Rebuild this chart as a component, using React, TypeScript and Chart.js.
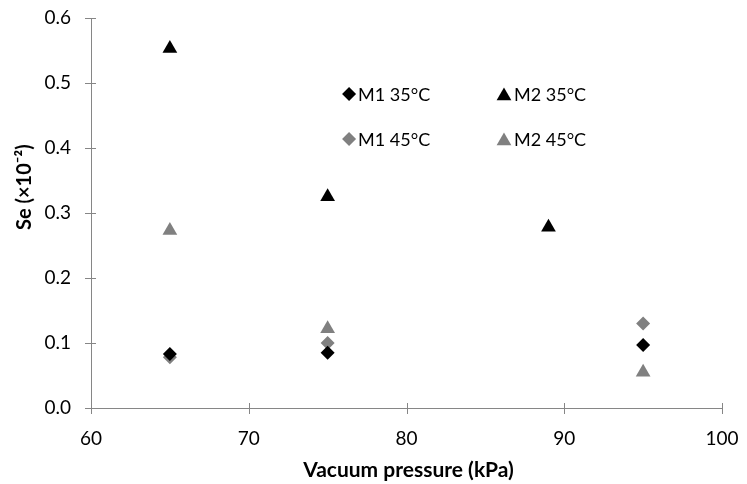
import React, { useEffect, useRef } from "react";
import { Chart, registerables } from "chart.js";

Chart.register(...registerables);

const seriesNames = ["M1 35°C", "M2 35°C", "M1 45°C", "M2 45°C"];
const m1_35_x = [65, 75, 95];
const m1_35_y = [0.083, 0.085, 0.097];
const m2_35_x = [65, 75, 89];
const m2_35_y = [0.553, 0.325, 0.278];
const m1_45_x = [65, 75, 95];
const m1_45_y = [0.078, 0.1, 0.13];
const m2_45_x = [65, 75, 95];
const m2_45_y = [0.273, 0.122, 0.055];
const xTicks = [60, 70, 80, 90, 100];
const yTicks = [0, 0.1, 0.2, 0.3, 0.4, 0.5, 0.6];
const xTitle = "Vacuum pressure (kPa)";
const yTitle = "Se (×10⁻²)";

const FONT = "Lato, 'Open Sans', sans-serif";
const AXIS = "#868686";

const zip = (xs: number[], ys: number[]) => xs.map((x, i) => ({ x, y: ys[i] }));

const crossTicks = {
  id: "crossTicks",
  afterDraw(chart: any) {
    const ctx = chart.ctx;
    const xs = chart.scales.x;
    const ys = chart.scales.y;
    ctx.save();
    ctx.strokeStyle = AXIS;
    ctx.lineWidth = 1;
    ctx.beginPath();
    xTicks.forEach((t) => {
      const px = Math.round(xs.getPixelForValue(t)) + 0.5;
      ctx.moveTo(px, ys.bottom - 5);
      ctx.lineTo(px, ys.bottom + 6);
    });
    yTicks.forEach((t) => {
      const py = Math.round(ys.getPixelForValue(t)) + 0.5;
      ctx.moveTo(xs.left - 6, py);
      ctx.lineTo(xs.left + 5, py);
    });
    ctx.stroke();
    ctx.restore();
  },
};

function drawShape(ctx: CanvasRenderingContext2D, style: string, x: number, y: number, r: number) {
  ctx.beginPath();
  if (style === "triangle") {
    ctx.moveTo(x, y - r);
    ctx.lineTo(x + r * 0.866, y + r * 0.5);
    ctx.lineTo(x - r * 0.866, y + r * 0.5);
  } else {
    ctx.moveTo(x - r, y);
    ctx.lineTo(x, y - r);
    ctx.lineTo(x + r, y);
    ctx.lineTo(x, y + r);
  }
  ctx.closePath();
  ctx.fill();
}

const legendPlugin = {
  id: "legendPlugin",
  afterDraw(chart: any) {
    const ctx = chart.ctx;
    const area = chart.chartArea;
    const w = area.right - area.left;
    const h = area.bottom - area.top;
    const cols = [area.left + w * 0.409, area.left + w * 0.6545];
    const rows = [area.top + h * 0.195, area.top + h * 0.31];
    ctx.save();
    ctx.font = `18px ${FONT}`;
    ctx.textBaseline = "middle";
    ctx.textAlign = "left";
    chart.data.datasets.forEach((ds: any, i: number) => {
      const c = cols[i % 2];
      const r = rows[Math.floor(i / 2)];
      const style = ds.pointStyle;
      ctx.fillStyle = ds.backgroundColor;
      if (style === "triangle") {
        drawShape(ctx, style, c, r + 2, 8.5);
        ctx.fillStyle = "#000";
        ctx.fillText(ds.label, c + 10, r + 1);
      } else {
        drawShape(ctx, style, c, r, 7);
        ctx.fillStyle = "#000";
        ctx.fillText(ds.label, c + 9, r + 1);
      }
    });
    ctx.restore();
  },
};

const titlesPlugin = {
  id: "titlesPlugin",
  afterDraw(chart: any) {
    const ctx = chart.ctx;
    const area = chart.chartArea;
    ctx.save();
    ctx.fillStyle = "#000";
    ctx.font = `bold 21px ${FONT}`;
    ctx.textBaseline = "middle";
    ctx.textAlign = "center";
    ctx.fillText(xTitle, (area.left + area.right) / 2 + 2, 470);
    ctx.translate(25, 230);
    ctx.rotate(-Math.PI / 2);
    ctx.textAlign = "left";
    ctx.font = `bold 20px ${FONT}`;
    ctx.fillText(yTitle, 0, 0);
    ctx.restore();
  },
};

export default function App() {
  const ref = useRef<HTMLCanvasElement>(null);
  useEffect(() => {
    if (!ref.current) return;
    const mk = (label: string, data: any[], color: string, style: string, radius: number) => ({
      label,
      data,
      backgroundColor: color,
      borderColor: color,
      borderWidth: 0,
      pointStyle: style,
      pointRadius: radius,
      pointHoverRadius: radius,
      showLine: false,
    });
    const chart = new Chart(ref.current, {
      type: "scatter",
      data: {
        datasets: [
          mk(seriesNames[0], zip(m1_35_x, m1_35_y), "#000000", "rectRot", 7),
          mk(seriesNames[1], zip(m2_35_x, m2_35_y), "#000000", "triangle", 8.5),
          mk(seriesNames[2], zip(m1_45_x, m1_45_y), "#808080", "rectRot", 7),
          mk(seriesNames[3], zip(m2_45_x, m2_45_y), "#808080", "triangle", 8.5),
        ] as any,
      },
      options: {
        animation: false,
        responsive: true,
        maintainAspectRatio: false,
        layout: { padding: { top: 18, right: 25, left: 0, bottom: 0 } },
        plugins: { legend: { display: false }, tooltip: { enabled: false } },
        scales: {
          x: {
            type: "linear",
            min: 60,
            max: 100,
            afterBuildTicks: (s: any) => {
              s.ticks = xTicks.map((v) => ({ value: v }));
            },
            afterFit: (s: any) => {
              s.height = 76;
              s.paddingLeft = 0;
              s.paddingRight = 0;
            },
            grid: { display: false, drawTicks: false, tickLength: 0 },
            border: { display: true, color: AXIS, width: 1 },
            ticks: { color: "#000", font: { family: FONT, size: 19 }, padding: 19, maxRotation: 0 },
          },
          y: {
            type: "linear",
            min: 0,
            max: 0.6,
            afterBuildTicks: (s: any) => {
              s.ticks = yTicks.map((v) => ({ value: v }));
            },
            afterFit: (s: any) => {
              s.width = 91;
              s.paddingTop = 0;
              s.paddingBottom = 0;
            },
            grid: { display: false, drawTicks: false, tickLength: 0 },
            border: { display: true, color: AXIS, width: 1 },
            ticks: {
              color: "#000",
              font: { family: FONT, size: 19 },
              padding: 20,
              callback: (v: any) => Number(v).toFixed(1),
            },
          },
        },
      },
      plugins: [crossTicks, legendPlugin, titlesPlugin],
    });
    return () => chart.destroy();
  }, []);
  return (
    <div style={{ position: "fixed", left: 0, top: 0, width: 747, height: 484, background: "#fff" }}>
      <canvas ref={ref} />
    </div>
  );
}
